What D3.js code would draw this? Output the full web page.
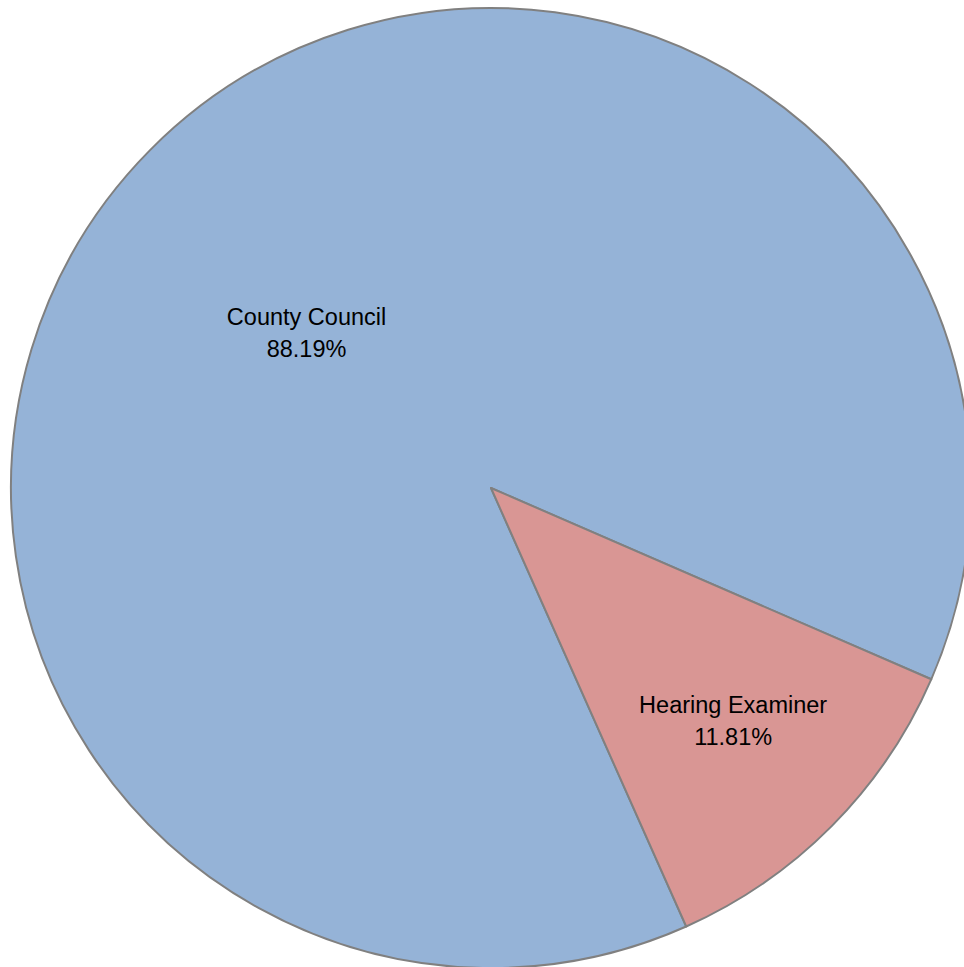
<!DOCTYPE html>
<html>
<head>
<meta charset="utf-8">
<script src="https://cdn.jsdelivr.net/npm/d3@7"></script>
<style>
  html, body { margin: 0; padding: 0; background: #ffffff; }
  svg { display: block; }
</style>
</head>
<body>
<svg id="chart" width="964" height="967"></svg>
<script>
const categories = ["County Council", "Hearing Examiner"];
const values = [88.19, 11.81];
const percentLabels = ["88.19%", "11.81%"];
const colors = ["#95B3D7", "#D99694"];

const W = 964, H = 967;
const cx = 491, cy = 488, R = 480;
const startDeg = 156.0;

const svg = d3.select("#chart");
const g = svg.append("g").attr("transform", `translate(${cx},${cy})`);

const data = categories.map((c, i) => ({ name: c, value: values[i], pct: percentLabels[i], color: colors[i] }));

const pie = d3.pie()
  .sort(null)
  .value(d => d.value)
  .startAngle(startDeg * Math.PI / 180)
  .endAngle(startDeg * Math.PI / 180 + 2 * Math.PI);

const arcs = pie(data);
const arc = d3.arc().innerRadius(0).outerRadius(R);

g.selectAll("path.slice")
  .data(arcs)
  .join("path")
  .attr("class", "slice")
  .attr("d", arc)
  .attr("fill", d => d.data.color)
  .attr("stroke", "#808080")
  .attr("stroke-width", 2)
  .attr("stroke-linejoin", "round");

// label placement radii (fraction of radius) and small nudges
const labelRadiusFrac = [0.5, 0.7];
const nudges = [[-14, 6], [3.5, -11.5]];

arcs.forEach((a, i) => {
  const lr = R * labelRadiusFrac[i];
  const la = d3.arc().innerRadius(lr).outerRadius(lr);
  const [x, y] = la.centroid(a);
  const tx = x + nudges[i][0], ty = y + nudges[i][1];
  const t = g.append("text")
    .attr("x", tx)
    .attr("y", ty)
    .attr("text-anchor", "middle")
    .attr("font-family", "'Liberation Sans', Arial, sans-serif")
    .attr("font-size", 23.5)
    .attr("fill", "#000000");
  t.append("tspan").attr("x", tx).attr("dy", 0).text(a.data.name);
  t.append("tspan").attr("x", tx).attr("dy", "1.35em").text(a.data.pct);
});
</script>
</body>
</html>
